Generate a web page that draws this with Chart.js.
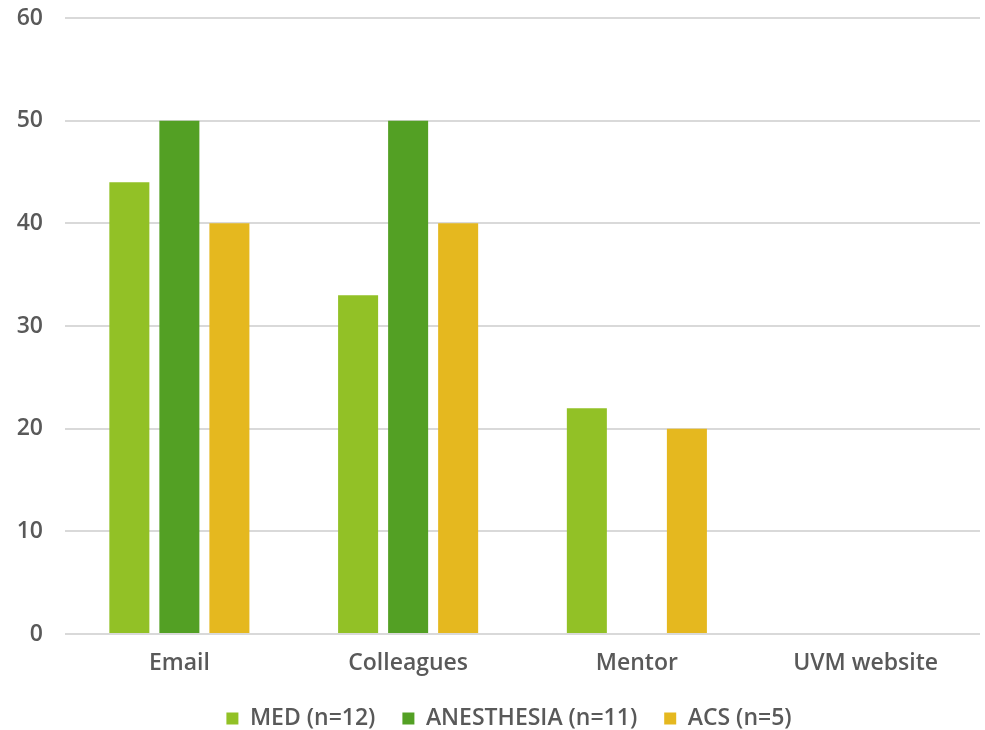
<!DOCTYPE html>
<html>
<head>
<meta charset="utf-8">
<script src="https://cdn.jsdelivr.net/npm/chart.js@4/dist/chart.umd.min.js"></script>
<style>
  html, body { margin: 0; padding: 0; background: #fff; }
  #wrap { width: 985px; height: 730px; }
</style>
</head>
<body>
<div id="wrap"><canvas id="chart"></canvas></div>
<script>
// data to display
const categories = ["Email", "Colleagues", "Mentor", "UVM website"];
const medValues = [44, 33, 22, 0];
const anesthesiaValues = [50, 50, 0, 0];
const acsValues = [40, 40, 20, 0];
const seriesNames = ["MED (n=12)", "ANESTHESIA (n=11)", "ACS (n=5)"];
const yTicks = [0, 10, 20, 30, 40, 50, 60];

const textColor = "#595959";
const gridColor = "#d9d9d9";

Chart.defaults.font.family = "'Open Sans', Lato, sans-serif";
Chart.defaults.font.size = 23;
Chart.defaults.font.weight = '600';
Chart.defaults.color = textColor;

// legend padding is used both between items and above/below them,
// so trim its height and nudge it right after the library lays it out
const legendTweak = {
  id: 'legendTweak',
  beforeLayout(chart) {
    const lg = chart.legend;
    if (!lg || lg._tweaked) return;
    const fit = lg.fit.bind(lg);
    const draw = lg.draw.bind(lg);
    lg.fit = function () { fit(); this.height = 50; };
    lg.draw = function () {
      this.ctx.save();
      this.ctx.translate(19, 0);
      draw();
      this.ctx.restore();
    };
    lg._tweaked = true;
  }
};

// configure the chart
const cfg = {
  type: 'bar',
  data: {
    labels: categories,
    datasets: [
      { label: seriesNames[0], data: medValues, backgroundColor: "#92c126" },
      { label: seriesNames[1], data: anesthesiaValues, backgroundColor: "#53a024" },
      { label: seriesNames[2], data: acsValues, backgroundColor: "#e5b81f" }
    ]
  },
  options: {
    responsive: true,
    maintainAspectRatio: false,
    animation: false,
    datasets: {
      bar: { barPercentage: 0.8, categoryPercentage: 0.656 }
    },
    layout: {
      padding: { top: 18, right: 5, left: 0, bottom: 0 }
    },
    plugins: {
      legend: {
        position: 'bottom',
        labels: {
          boxWidth: 12,
          boxHeight: 12,
          padding: 27,
          color: textColor,
          font: { size: 23, weight: '600' }
        }
      },
      tooltip: { enabled: false }
    },
    scales: {
      x: {
        grid: { display: false },
        border: { display: false },
        afterFit: (scale) => { scale.height = 46; },
        ticks: { padding: 8, color: textColor }
      },
      y: {
        min: 0,
        max: 60,
        afterFit: (scale) => {
          scale.width = 65;
          scale.paddingTop = 0;
          scale.paddingBottom = 0;
        },
        afterBuildTicks: (scale) => { scale.ticks = yTicks.map(v => ({ value: v })); },
        grid: { color: gridColor, lineWidth: 2, drawTicks: false },
        border: { display: false },
        ticks: { padding: 22, color: textColor }
      }
    }
  },
  plugins: [legendTweak]
};

// create the chart
new Chart(document.getElementById('chart'), cfg);
</script>
</body>
</html>
